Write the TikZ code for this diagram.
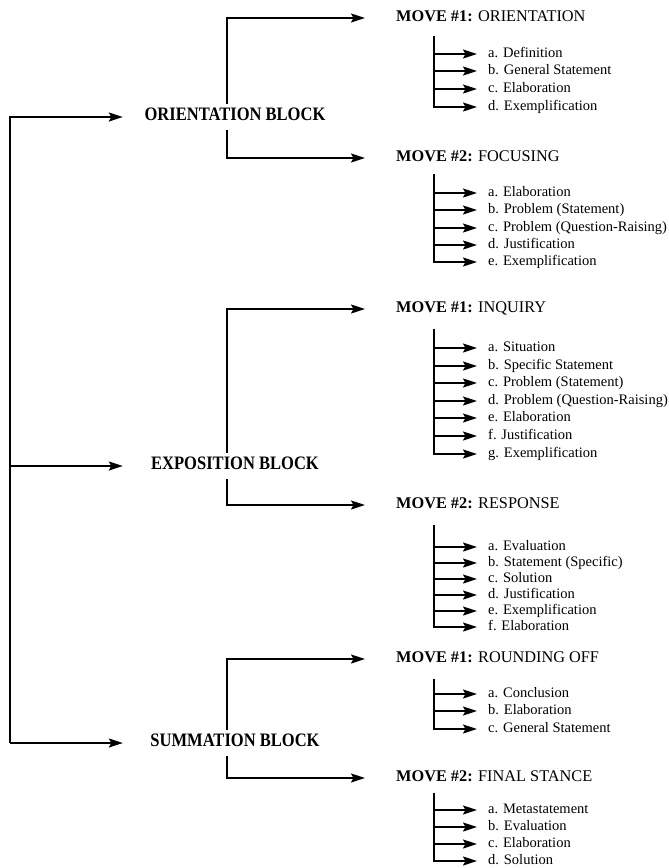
\documentclass[tikz,border=0pt]{standalone}
\usepackage{fontspec}
\setmainfont{Liberation Serif}
\newfontfamily\blockfont[FakeStretch=0.87]{Liberation Serif}
\usetikzlibrary{arrows.meta}

\begin{document}
\begin{tikzpicture}[x=1pt, y=-1pt,
    arr/.style={-{Stealth[length=14pt, width=9pt, inset=2.5pt]}, line width=1.5pt, line join=miter},
    block/.style={font=\blockfont\fontsize{19}{20}\selectfont\bfseries, inner sep=0pt, minimum width=224pt, minimum height=26pt, text height=0.66em, text depth=0pt},
    move/.style={font=\fontsize{16.3}{18}\selectfont, anchor=west, inner xsep=31pt, inner ysep=0pt, text height=0.66em, text depth=0pt},
    item/.style={font=\fontsize{14.5}{16}\selectfont, anchor=west, inner xsep=11pt, inner ysep=0pt, text height=0.66em, text depth=0pt}]
    \useasboundingbox (0,0) rectangle (669,868);

    % blocks
    \node[block] (ob) at (235,117) {ORIENTATION BLOCK};
    \node[block] (eb) at (235,466) {EXPOSITION BLOCK};
    \node[block] (sb) at (235,743) {SUMMATION BLOCK};

    \coordinate (sp) at (10,0);
    \draw[arr] (sp |- sb.west) |- (ob.west);
    \draw[arr] (sp |- eb.west) -- (eb.west);
    \draw[arr] (sp |- sb.west) -- (sb.west);

    % moves
    \node[move] (o1) at (365,18) {\textbf{MOVE \#1:} ORIENTATION};
    \node[move] (o2) at (365,158) {\textbf{MOVE \#2:} FOCUSING};
    \node[move] (e1) at (365,309) {\textbf{MOVE \#1:} INQUIRY};
    \node[move] (e2) at (365,505) {\textbf{MOVE \#2:} RESPONSE};
    \node[move] (s1) at (365,659) {\textbf{MOVE \#1:} ROUNDING OFF};
    \node[move] (s2) at (365,778) {\textbf{MOVE \#2:} FINAL STANCE};

    \draw[arr] ([xshift=-8pt]ob.north) |- (o1.west);
    \draw[arr] ([xshift=-8pt]ob.south) |- (o2.west);
    \draw[arr] ([xshift=-8pt]eb.north) |- (e1.west);
    \draw[arr] ([xshift=-8pt]eb.south) |- (e2.west);
    \draw[arr] ([xshift=-8pt]sb.north) |- (s1.west);
    \draw[arr] ([xshift=-8pt]sb.south) |- (s2.west);

    % orientation block
    \coordinate (o1t) at (434,36);
    \node[item] (o1a) at (477,54) {a. Definition};
    \node[item] (o1b) at (477,71) {b. General Statement};
    \node[item] (o1c) at (477,89) {c. Elaboration};
    \node[item] (o1d) at (477,107) {d. Exemplification};
    \draw[arr] (o1t) |- (o1d.west);
    \foreach \i in {o1a,o1b,o1c} \draw[arr] (o1t |- \i.west) -- (\i.west);

    \coordinate (o2t) at (434,174);
    \node[item] (o2a) at (477,193) {a. Elaboration};
    \node[item] (o2b) at (477,210) {b. Problem (Statement)};
    \node[item] (o2c) at (477,228) {c. Problem (Question-Raising)};
    \node[item] (o2d) at (477,245) {d. Justification};
    \node[item] (o2e) at (477,262) {e. Exemplification};
    \draw[arr] (o2t) |- (o2e.west);
    \foreach \i in {o2a,o2b,o2c,o2d} \draw[arr] (o2t |- \i.west) -- (\i.west);

    % exposition block
    \coordinate (e1t) at (434,329);
    \node[item] (e1a) at (477,348) {a. Situation};
    \node[item] (e1b) at (477,366) {b. Specific Statement};
    \node[item] (e1c) at (477,383) {c. Problem (Statement)};
    \node[item] (e1d) at (477,401) {d. Problem (Question-Raising)};
    \node[item] (e1e) at (477,418) {e. Elaboration};
    \node[item] (e1f) at (477,436) {f. Justification};
    \node[item] (e1g) at (477,454) {g. Exemplification};
    \draw[arr] (e1t) |- (e1g.west);
    \foreach \i in {e1a,e1b,e1c,e1d,e1e,e1f} \draw[arr] (e1t |- \i.west) -- (\i.west);

    \coordinate (e2t) at (434,525);
    \node[item] (e2a) at (477,547) {a. Evaluation};
    \node[item] (e2b) at (477,563) {b. Statement (Specific)};
    \node[item] (e2c) at (477,579) {c. Solution};
    \node[item] (e2d) at (477,595) {d. Justification};
    \node[item] (e2e) at (477,611) {e. Exemplification};
    \node[item] (e2f) at (477,627) {f. Elaboration};
    \draw[arr] (e2t) |- (e2f.west);
    \foreach \i in {e2a,e2b,e2c,e2d,e2e} \draw[arr] (e2t |- \i.west) -- (\i.west);

    % summation block
    \coordinate (s1t) at (434,679);
    \node[item] (s1a) at (477,694) {a. Conclusion};
    \node[item] (s1b) at (477,711) {b. Elaboration};
    \node[item] (s1c) at (477,729) {c. General Statement};
    \draw[arr] (s1t) |- (s1c.west);
    \foreach \i in {s1a,s1b} \draw[arr] (s1t |- \i.west) -- (\i.west);

    \coordinate (s2t) at (434,793);
    \node[item] (s2a) at (477,810) {a. Metastatement};
    \node[item] (s2b) at (477,827) {b. Evaluation};
    \node[item] (s2c) at (477,844) {c. Elaboration};
    \node[item] (s2d) at (477,861) {d. Solution};
    \draw[arr] (s2t) |- (s2d.west);
    \foreach \i in {s2a,s2b,s2c} \draw[arr] (s2t |- \i.west) -- (\i.west);
\end{tikzpicture}
\end{document}
